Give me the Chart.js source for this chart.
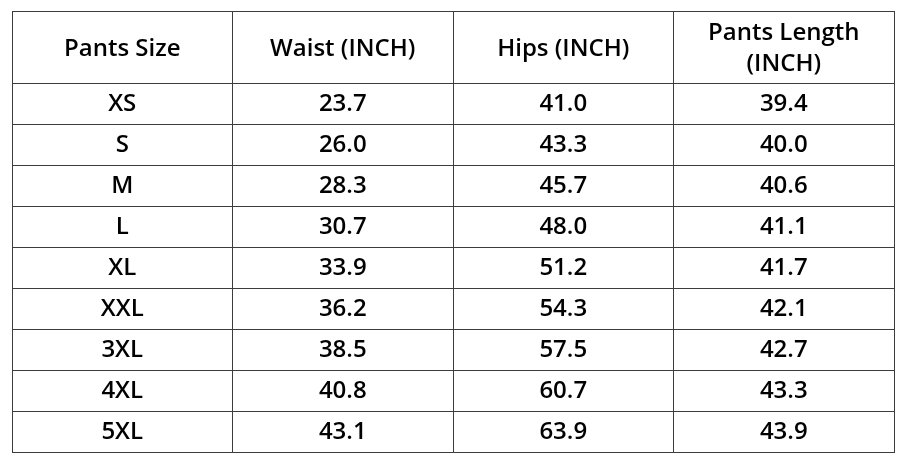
<!DOCTYPE html>
<html>
<head>
<meta charset="utf-8">
<script src="https://cdn.jsdelivr.net/npm/chart.js@4/dist/chart.umd.min.js"></script>
<style>
  html, body { margin: 0; padding: 0; background: #fff; }
  #wrap { width: 906px; height: 463px; }
</style>
</head>
<body>
<div id="wrap"><canvas id="sizeTable"></canvas></div>
<script>
// table data
const headers = [["Pants Size"], ["Waist (INCH)"], ["Hips (INCH)"], ["Pants Length", "(INCH)"]];
const sizes = ["XS", "S", "M", "L", "XL", "XXL", "3XL", "4XL", "5XL"];
const waist = [23.7, 26.0, 28.3, 30.7, 33.9, 36.2, 38.5, 40.8, 43.1];
const hips = [41.0, 43.3, 45.7, 48.0, 51.2, 54.3, 57.5, 60.7, 63.9];
const pantsLength = [39.4, 40.0, 40.6, 41.1, 41.7, 42.1, 42.7, 43.3, 43.9];

const headerSpan = 1.76; // header row is taller than body rows
const columns = [sizes, waist.map(v => v.toFixed(1)), hips.map(v => v.toFixed(1)), pantsLength.map(v => v.toFixed(1))];
const rowEdges = [0];
for (let r = 0; r < sizes.length; r++) rowEdges.push(headerSpan + r);

const FONT = '"Open Sans", "Noto Sans", sans-serif';

// writes the cell texts at the scale positions
const cellText = {
    id: 'cellText',
    afterDraw(chart) {
        const c = chart.ctx;
        const xs = chart.scales.x, ys = chart.scales.y;
        c.save();
        c.fillStyle = '#000';
        c.textAlign = 'center';
        c.textBaseline = 'middle';

        c.font = '600 24px ' + FONT;
        headers.forEach((lines, i) => {
            const cx = xs.getPixelForValue(i + 0.5);
            const cy = ys.getPixelForValue(headerSpan / 2) + 2;
            const lh = 31;
            lines.forEach((t, k) => {
                c.fillText(t, cx, cy + (k - (lines.length - 1) / 2) * lh);
            });
        });

        columns.forEach((col, i) => {
            const cx = xs.getPixelForValue(i + 0.5);
            col.forEach((t, r) => {
                c.fillText(t, cx, ys.getPixelForValue(headerSpan + r + 0.5) + 1);
            });
        });
        c.restore();
    }
};

const gridStyle = { color: '#3c3c3c', lineWidth: 1, drawTicks: false };

new Chart(document.getElementById('sizeTable'), {
    type: 'scatter',
    data: { datasets: [{ data: [] }] },
    options: {
        responsive: true,
        maintainAspectRatio: false,
        animation: false,
        events: [],
        layout: { padding: { left: 12, right: 12, top: 11, bottom: 11 } },
        plugins: { legend: { display: false }, tooltip: { enabled: false } },
        scales: {
            x: {
                min: 0, max: headers.length,
                afterBuildTicks: s => { s.ticks = headers.map((h, i) => ({ value: i })).concat([{ value: headers.length }]); },
                ticks: { display: false },
                grid: gridStyle,
                border: { color: '#3c3c3c', width: 1 }
            },
            y: {
                reverse: true,
                min: 0, max: headerSpan + sizes.length,
                afterBuildTicks: s => { s.ticks = rowEdges.map(v => ({ value: v })).concat([{ value: headerSpan + sizes.length }]); },
                ticks: { display: false },
                grid: gridStyle,
                border: { color: '#3c3c3c', width: 1 }
            }
        }
    },
    plugins: [cellText]
});
</script>
</body>
</html>
